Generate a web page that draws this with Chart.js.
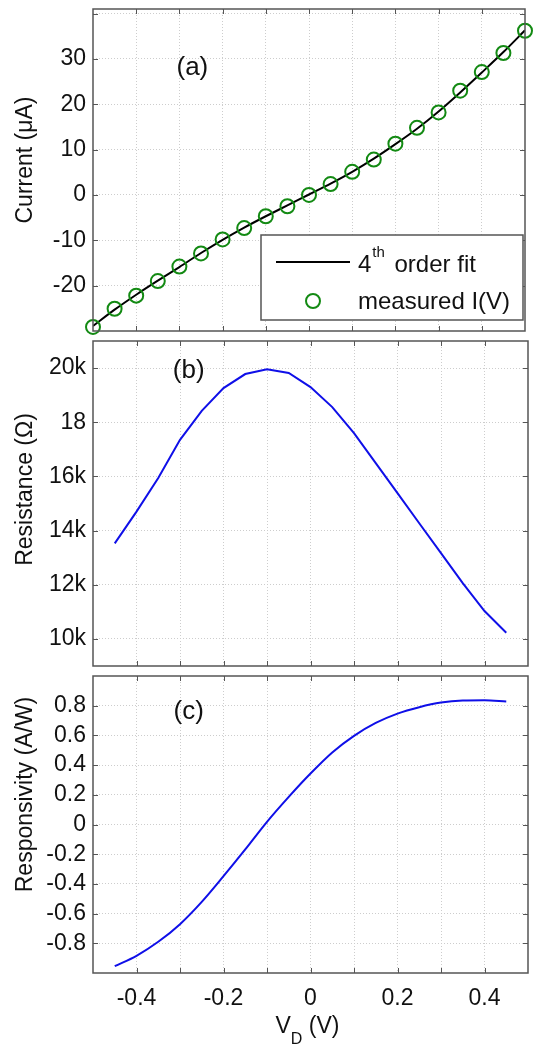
<!DOCTYPE html>
<html>
<head>
<meta charset="utf-8">
<title>Photodiode: I(V), resistance and responsivity</title>
<script src="https://cdn.jsdelivr.net/npm/chart.js"></script>
<style>
  body { margin: 0; background: #fff; }
  .panel { position: absolute; left: 0; width: 534px; }
</style>
</head>
<body>
<div class="panel" style="top:0;height:340px"><canvas id="chartA"></canvas></div>
<div class="panel" style="top:335px;height:340px"><canvas id="chartB"></canvas></div>
<div class="panel" style="top:670px;height:379px"><canvas id="chartC"></canvas></div>
<script>
  // valores
  var vMeasured = [-0.5, -0.45, -0.4, -0.35, -0.3, -0.25, -0.2, -0.15, -0.1, -0.05, 0,
                   0.05, 0.1, 0.15, 0.2, 0.25, 0.3, 0.35, 0.4, 0.45, 0.5];
  var iMeasured = [-29.1, -25.1, -22.2, -19.0, -15.8, -12.9, -9.8, -7.3, -4.7, -2.5, 0,
                   2.4, 5.1, 7.8, 11.3, 14.8, 18.2, 23.0, 27.1, 31.3, 36.2];
  var iFit = [-28.9, -25.3, -22.0, -18.9, -15.9, -12.8, -9.9, -7.2, -4.7, -2.3, 0.1,
              2.5, 5.1, 8.0, 11.2, 14.6, 18.4, 22.6, 27.0, 31.5, 36.3];

  var vDerived = [-0.45, -0.4, -0.35, -0.3, -0.25, -0.2, -0.15, -0.1, -0.05, 0,
                  0.05, 0.1, 0.15, 0.2, 0.25, 0.3, 0.35, 0.4, 0.45];
  var resistance = [13530, 14700, 15940, 17350, 18420, 19260, 19780, 19960, 19820, 19300,
                    18560, 17600, 16490, 15380, 14270, 13170, 12060, 11030, 10230];
  var responsivity = [-0.954, -0.884, -0.790, -0.671, -0.521, -0.348, -0.168, 0.018, 0.186, 0.343,
                      0.485, 0.597, 0.684, 0.747, 0.790, 0.821, 0.835, 0.837, 0.828];

  // ticks
  var xTicks = [-0.4, -0.3, -0.2, -0.1, 0, 0.1, 0.2, 0.3, 0.4];
  var xTickLabels = ['-0.4', '', '-0.2', '', '0', '', '0.2', '', '0.4'];
  var currentTicks = [-20, -10, 0, 10, 20, 30, 40];
  var currentTickLabels = ['-20', '-10', '0', '10', '20', '30', ''];
  var resistanceTicks = [10000, 12000, 14000, 16000, 18000, 20000];
  var resistanceTickLabels = ['10k', '12k', '14k', '16k', '18', '20k'];
  var responsivityTicks = [-0.8, -0.6, -0.4, -0.2, 0, 0.2, 0.4, 0.6, 0.8];
  var responsivityTickLabels = ['-0.8', '-0.6', '-0.4', '-0.2', '0', '0.2', '0.4', '0.6', '0.8'];

  var FONT = '"Liberation Sans", Arial, sans-serif';

  function pts(xs, ys) {
    return xs.map(function (x, i) { return { x: x, y: ys[i] }; });
  }

  // moldura, ticks para dentro, rotulo do painel e titulo do eixo y
  var frameTicks = {
    id: 'frameTicks',
    afterDraw: function (chart, args, opts) {
      var ctx = chart.ctx, a = chart.chartArea;
      var xs = chart.scales.x, ys = chart.scales.y;
      ctx.save();
      ctx.strokeStyle = '#555';
      ctx.lineWidth = 1;
      ctx.beginPath();
      xs.ticks.forEach(function (t) {
        var px = Math.round(xs.getPixelForValue(t.value)) + 0.5;
        ctx.moveTo(px, a.bottom); ctx.lineTo(px, a.bottom - 5);
        ctx.moveTo(px, a.top); ctx.lineTo(px, a.top + 5);
      });
      ys.ticks.forEach(function (t) {
        var py = Math.round(ys.getPixelForValue(t.value)) + 0.5;
        ctx.moveTo(a.left, py); ctx.lineTo(a.left + 5, py);
        ctx.moveTo(a.right, py); ctx.lineTo(a.right - 5, py);
      });
      ctx.stroke();
      ctx.lineWidth = 1.5;
      ctx.strokeRect(a.left, a.top, a.right - a.left, a.bottom - a.top);

      ctx.fillStyle = '#111';
      ctx.textAlign = 'center';
      ctx.textBaseline = 'middle';
      ctx.font = '26px ' + FONT;
      ctx.fillText(opts.label, xs.getPixelForValue(opts.labelX), ys.getPixelForValue(opts.labelY));

      ctx.translate(26, (a.top + a.bottom) / 2 + opts.titleShift);
      ctx.rotate(-Math.PI / 2);
      ctx.font = '23px ' + FONT;
      ctx.fillText(opts.title, 0, 0);
      ctx.restore();
    }
  };

  // legenda do painel (a)
  var legendA = {
    id: 'legendA',
    afterDraw: function (chart) {
      var ctx = chart.ctx;
      var fit = chart.data.datasets[1], meas = chart.data.datasets[0];
      ctx.save();
      ctx.fillStyle = '#fff';
      ctx.fillRect(261, 235, 262, 85);
      ctx.strokeStyle = '#555';
      ctx.lineWidth = 1.5;
      ctx.strokeRect(261, 235, 262, 85);

      ctx.strokeStyle = fit.borderColor;
      ctx.lineWidth = fit.borderWidth;
      ctx.beginPath(); ctx.moveTo(276, 262); ctx.lineTo(350, 262); ctx.stroke();

      ctx.strokeStyle = meas.borderColor;
      ctx.lineWidth = meas.borderWidth;
      ctx.beginPath(); ctx.arc(313, 301, meas.pointRadius, 0, Math.PI * 2); ctx.stroke();

      ctx.fillStyle = '#111';
      ctx.textBaseline = 'middle';
      ctx.textAlign = 'left';
      ctx.font = '24px ' + FONT;
      var x = 358;
      ctx.fillText('4', x, 265);
      x += ctx.measureText('4').width + 1;
      ctx.font = '15px ' + FONT;
      ctx.fillText('th', x, 253);
      x += ctx.measureText('th').width + 3;
      ctx.font = '24px ' + FONT;
      ctx.fillText(' order fit', x, 265);
      ctx.fillText('measured I(V)', 358, 302);
      ctx.restore();
    }
  };

  // titulo do eixo x com subscrito
  var xTitle = {
    id: 'xTitle',
    afterDraw: function (chart) {
      var ctx = chart.ctx;
      var cx = chart.scales.x.getPixelForValue(0);
      ctx.save();
      ctx.fillStyle = '#111';
      ctx.textBaseline = 'middle';
      ctx.textAlign = 'left';
      ctx.font = '23px ' + FONT;
      var x = cx - 35;
      ctx.fillText('V', x, 1027 - 670);
      x += ctx.measureText('V').width;
      ctx.font = '16px ' + FONT;
      ctx.fillText('D', x, 1040 - 670);
      x += ctx.measureText('D').width;
      ctx.font = '23px ' + FONT;
      ctx.fillText(' (V)', x, 1027 - 670);
      ctx.restore();
    }
  };

  function noOverflow(s) {
    s.paddingTop = 0; s.paddingBottom = 0; s.paddingLeft = 0; s.paddingRight = 0;
  }

  function xScale(showLabels, height) {
    return {
      type: 'linear', min: -0.5, max: 0.5,
      afterBuildTicks: function (s) { s.ticks = xTicks.map(function (v) { return { value: v }; }); },
      afterFit: function (s) { s.height = height; noOverflow(s); },
      grid: { color: '#cdcdcd', lineWidth: 1, drawTicks: false },
      border: { display: false, dash: [1, 2] },
      ticks: {
        autoSkip: false, maxRotation: 0, padding: 12,
        display: showLabels,
        color: '#111', font: { family: FONT, size: 23 },
        callback: function (v, i) { return xTickLabels[i]; }
      }
    };
  }

  function yScale(min, max, values, labels) {
    return {
      type: 'linear', min: min, max: max,
      afterBuildTicks: function (s) { s.ticks = values.map(function (v) { return { value: v }; }); },
      afterFit: function (s) { s.width = 93; noOverflow(s); },
      grid: { color: '#cdcdcd', lineWidth: 1, drawTicks: false },
      border: { display: false, dash: [1, 2] },
      ticks: {
        autoSkip: false, padding: 7,
        color: '#111', font: { family: FONT, size: 23 },
        callback: function (v, i) { return labels[i]; }
      }
    };
  }

  function baseOptions(extra) {
    return {
      responsive: true,
      maintainAspectRatio: false,
      animation: false,
      layout: { padding: { top: 6, right: 6, left: 0, bottom: 0 } },
      plugins: Object.assign({ legend: { display: false }, tooltip: { enabled: false } }, extra)
    };
  }

  // (a) corrente
  var optsA = baseOptions({
    frameTicks: { label: '(a)', labelX: -0.27, labelY: 28, title: 'Current (\u03bcA)', titleShift: -10 }
  });
  optsA.scales = {
    x: xScale(false, 8),
    y: yScale(-30, 41, currentTicks, currentTickLabels)
  };
  new Chart(document.getElementById('chartA'), {
    type: 'scatter',
    data: {
      datasets: [
        {
          label: 'measured I(V)', data: pts(vMeasured, iMeasured),
          showLine: false, pointStyle: 'circle', pointRadius: 7,
          borderColor: '#138a13', backgroundColor: 'rgba(0,0,0,0)', borderWidth: 2, clip: false
        },
        {
          label: '4th order fit', data: pts(vMeasured, iFit),
          showLine: true, pointRadius: 0, borderColor: '#000', borderWidth: 2,
          tension: 0.3, cubicInterpolationMode: 'monotone'
        }
      ]
    },
    options: optsA,
    plugins: [frameTicks, legendA]
  });

  // (b) resistencia
  var optsB = baseOptions({
    frameTicks: { label: '(b)', labelX: -0.28, labelY: 19900, title: 'Resistance (\u03a9)', titleShift: -14 }
  });
  optsB.scales = {
    x: xScale(false, 9),
    y: yScale(9000, 21000, resistanceTicks, resistanceTickLabels)
  };
  new Chart(document.getElementById('chartB'), {
    type: 'scatter',
    data: {
      datasets: [{
        label: 'Resistance', data: pts(vDerived, resistance),
        showLine: true, pointRadius: 0, borderColor: '#0f0fe8', borderWidth: 2, tension: 0
      }]
    },
    options: optsB,
    plugins: [frameTicks]
  });

  // (c) responsividade
  var optsC = baseOptions({
    frameTicks: { label: '(c)', labelX: -0.28, labelY: 0.76, title: 'Responsivity (A/W)', titleShift: -30 }
  });
  optsC.scales = {
    x: xScale(true, 76),
    y: yScale(-1, 1, responsivityTicks, responsivityTickLabels)
  };
  new Chart(document.getElementById('chartC'), {
    type: 'scatter',
    data: {
      datasets: [{
        label: 'Responsivity', data: pts(vDerived, responsivity),
        showLine: true, pointRadius: 0, borderColor: '#0f0fe8', borderWidth: 2,
        tension: 0.3, cubicInterpolationMode: 'monotone'
      }]
    },
    options: optsC,
    plugins: [frameTicks, xTitle]
  });
</script>
</body>
</html>
